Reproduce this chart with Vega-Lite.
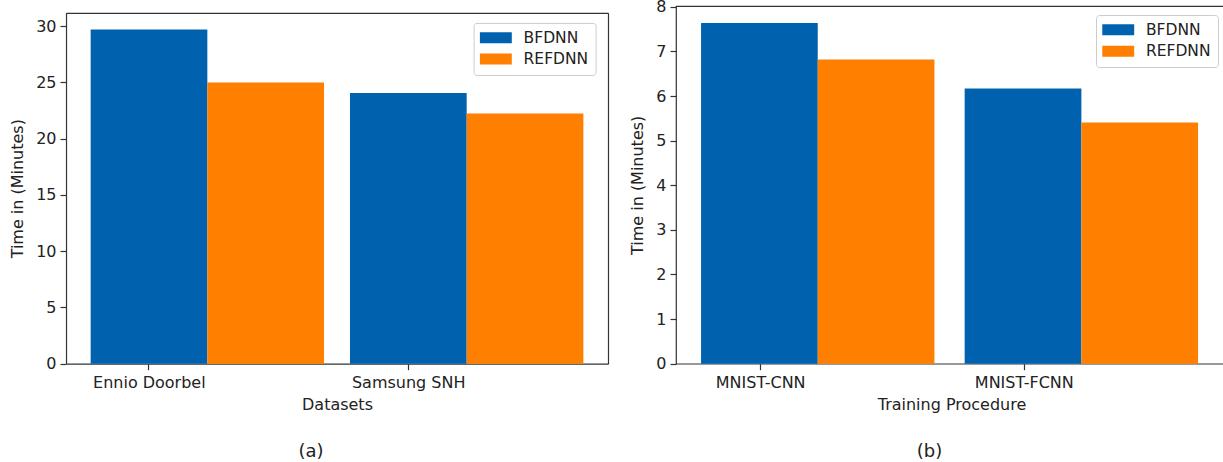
{
  "$schema": "https://vega.github.io/schema/vega-lite/v6.json",
  "padding": {"top": -2, "left": 9, "right": -3, "bottom": 0},
  "background": "white",
  "spacing": 21,
  "resolve": {"scale": {"color": "independent"}, "legend": {"color": "independent"}},
  "config": {
    "font": "DejaVu Sans",
    "view": {"stroke": "#333333", "strokeWidth": 1.2},
    "axis": {"grid": false, "domain": false, "domainColor": "#333333", "domainWidth": 1.2, "tickColor": "#333333", "tickWidth": 1.2, "tickSize": 6, "labelFontSize": 16, "labelColor": "#222222", "labelPadding": 4, "titleFontSize": 16, "titleFontWeight": "normal", "titleColor": "#222222"},
    "axisY": {"titlePadding": 10},
    "axisX": {"labelAngle": 0, "titlePadding": 6, "labelPadding": 5},
    "legend": {"fillColor": "rgba(255,255,255,0.8)", "strokeColor": "#cccccc", "strokeWidth": 1, "cornerRadius": 3, "padding": 7, "symbolType": "M-2.9,-1H2.9V1H-2.9Z", "symbolSize": 121, "symbolStrokeWidth": 0, "symbolOpacity": 1, "symbolOffset": 7.5, "labelOffset": 20, "labelFontSize": 15.5, "labelColor": "#222222", "rowPadding": 4.4},
    "title": {"orient": "bottom", "fontSize": 18, "fontWeight": "normal", "color": "#222222", "offset": 30}
  },
  "hconcat": [
    {
      "width": 542,
      "height": 357.7,
      "view": {"stroke": null},
      "title": {"text": "(a)", "dx": -26},
      "data": {"values": [
        {"Dataset": "Ennio Doorbel", "Method": "BFDNN", "Time": 29.7},
        {"Dataset": "Ennio Doorbel", "Method": "REFDNN", "Time": 24.99},
        {"Dataset": "Samsung SNH", "Method": "BFDNN", "Time": 24.05},
        {"Dataset": "Samsung SNH", "Method": "REFDNN", "Time": 22.24}
      ]},
      "encoding": {
        "xOffset": {"field": "Method", "type": "nominal", "sort": null, "scale": {"paddingInner": 0, "paddingOuter": 0}},
        "color": {"field": "Method", "type": "nominal", "sort": null, "title": null, "scale": {"domain": ["BFDNN", "REFDNN"], "range": ["#0062ae", "#ff7f00"]}, "legend": {"orient": "none", "legendX": 407.6, "legendY": 16.9, "title": null}}
      },
      "layer": [
        {
          "transform": [{"filter": "datum.Method === 'BFDNN'"}],
          "mark": "bar",
          "encoding": {
            "x": {"field": "Dataset", "type": "nominal", "sort": null, "title": "Datasets", "scale": {"paddingInner": 0.1, "paddingOuter": 0.095}, "axis": {"orient": "bottom", "domain": true, "bandPosition": 0.25, "labelOffset": -58}},
            "y": {"field": "Time", "type": "quantitative", "title": "Time in (Minutes)", "scale": {"domain": [0, 31.185], "range": [357.7, 6.8], "nice": false, "zero": true}, "axis": {"orient": "left", "domain": true, "values": [0, 5, 10, 15, 20, 25, 30]}}
          }
        },
        {
          "transform": [{"filter": "datum.Method === 'REFDNN'"}],
          "mark": "bar",
          "encoding": {
            "x": {"field": "Dataset", "type": "nominal", "sort": null, "scale": {"paddingInner": 0.1, "paddingOuter": 0.095}, "axis": {"orient": "top", "title": null, "labels": false, "ticks": false, "domain": true, "offset": -6.8}},
            "y": {"field": "Time", "type": "quantitative", "scale": {"domain": [0, 31.185], "range": [357.7, 6.8], "nice": false, "zero": true}, "axis": {"orient": "right", "title": null, "labels": false, "ticks": false, "domain": true}}
          }
        }
      ]
    },
    {
      "width": 551,
      "height": 357.7,
      "title": {"text": "(b)", "dx": -22},
      "data": {"values": [
        {"Procedure": "MNIST-CNN", "Method": "BFDNN", "Time": 7.64},
        {"Procedure": "MNIST-CNN", "Method": "REFDNN", "Time": 6.82},
        {"Procedure": "MNIST-FCNN", "Method": "BFDNN", "Time": 6.17},
        {"Procedure": "MNIST-FCNN", "Method": "REFDNN", "Time": 5.41}
      ]},
      "mark": "bar",
      "encoding": {
        "x": {"field": "Procedure", "type": "nominal", "sort": null, "title": "Training Procedure", "scale": {"paddingInner": 0.1, "paddingOuter": 0.095}, "axis": {"bandPosition": 0.25, "labelOffset": -59}},
        "xOffset": {"field": "Method", "type": "nominal", "sort": null, "scale": {"paddingInner": 0, "paddingOuter": 0}},
        "y": {"field": "Time", "type": "quantitative", "title": "Time in (Minutes)", "scale": {"domain": [0, 8.02], "nice": false, "zero": true}, "axis": {"values": [0, 1, 2, 3, 4, 5, 6, 7, 8]}},
        "color": {"field": "Method", "type": "nominal", "sort": null, "title": null, "scale": {"domain": ["BFDNN", "REFDNN"], "range": ["#0062ae", "#ff7f00"]}, "legend": {"orient": "top-right", "offset": 9, "title": null}}
      }
    }
  ]
}
